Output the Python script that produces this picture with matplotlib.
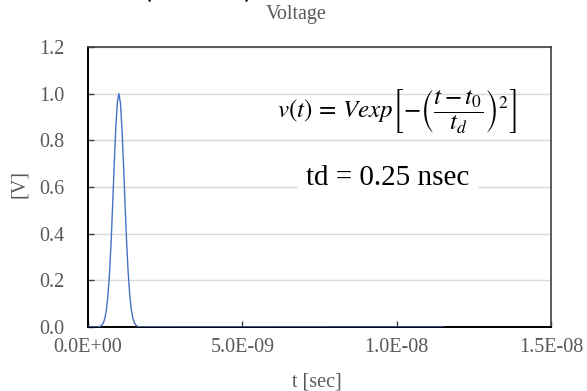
import matplotlib
matplotlib.use("Agg")
import matplotlib.pyplot as plt
from matplotlib.ticker import FuncFormatter

# Data (time in ns, voltage in V)
t_ns = [0.0, 0.3, 0.35, 0.4, 0.45, 0.5, 0.55, 0.6, 0.65, 0.7, 0.75, 0.8, 0.85,
        0.9, 0.95, 1.0, 1.05, 1.1, 1.15, 1.2, 1.25, 1.3, 1.35, 1.4, 1.45, 1.5,
        1.55, 1.6, 1.65, 1.7, 11.5]
voltage = [0.0, 0.0004, 0.0012, 0.0032, 0.0079, 0.0183, 0.0392, 0.0773, 0.1409,
           0.2369, 0.3679, 0.5273, 0.6977, 0.8521, 0.9608, 1.0, 0.9608, 0.8521,
           0.6977, 0.5273, 0.3679, 0.2369, 0.1409, 0.0773, 0.0392, 0.0183,
           0.0079, 0.0032, 0.0012, 0.0004, 0.0]
x_ticks = [0.0, 5e-9, 1e-8, 1.5e-8]
y_ticks = [0.0, 0.2, 0.4, 0.6, 0.8, 1.0, 1.2]

plt.rcParams['font.family'] = ['Liberation Serif', 'DejaVu Serif']
plt.rcParams['mathtext.fontset'] = 'stix'

fig = plt.figure(figsize=(5.87, 3.91), dpi=100)
W, H = 587, 391
ax = fig.add_axes([88 / W, 1 - 327 / H, (551 - 88) / W, (327 - 47) / H])

t_sec = [v * 1e-9 for v in t_ns]
ax.plot(t_sec, voltage, color='#4472C4', lw=1.0, zorder=3)

ax.set_xlim(0, 1.5e-8)
ax.set_ylim(0, 1.2)
ax.set_xticks(x_ticks)
ax.set_yticks(y_ticks)
ax.xaxis.set_major_formatter(FuncFormatter(lambda v, p: f"{v:.1E}"))
ax.yaxis.set_major_formatter(FuncFormatter(lambda v, p: f"{v:.1f}"))
ax.tick_params(axis='both', direction='in', length=4, width=1, color='#404040',
               labelsize=14.5, labelcolor='#595959')
ax.tick_params(axis='y', pad=17)
ax.tick_params(axis='x', pad=8)
ax.grid(axis='y', color='#D9D9D9', lw=1)
ax.set_axisbelow(True)

for s in ['left', 'bottom']:
    ax.spines[s].set_color('black')
    ax.spines[s].set_linewidth(1.4)
for s in ['top', 'right']:
    ax.spines[s].set_color('#404040')
    ax.spines[s].set_linewidth(1.2)

ax.set_xlabel('t [sec]', fontsize=14.5, color='#595959')
ax.xaxis.set_label_coords((317 - 88) / (551 - 88), -(373 - 327) / (327 - 47))
ax.set_ylabel('[V]', fontsize=14.5, color='#595959')
ax.yaxis.set_label_coords(-(88 - 29) / (551 - 88), (327 - 184) / (327 - 47))

fig.text(296 / W, 1 - 15 / H, 'Voltage', ha='center', va='center', fontsize=14.5,
         color='#595959')
fig.text(20 / W, 1 + 4 / H, '給電電圧(パルス)', ha='left', va='baseline',
         fontsize=22, color='black', family=['Noto Sans CJK JP', 'DejaVu Sans'])

ax.text(397 / W, 1 - 111 / H,
        r'$v(t)\, =\, Vexp\left[-\left(\dfrac{t - t_0}{t_d}\right)^{2}\right]$',
        transform=fig.transFigure, ha='center', va='center', fontsize=18,
        color='black', zorder=5)
ax.text(388 / W, 1 - 178 / H, 'td = 0.25 nsec', transform=fig.transFigure,
        ha='center', va='center', fontsize=21, color='black', zorder=5,
        bbox=dict(boxstyle='square,pad=0.3', fc='white', ec='none'))

fig.savefig('out.png', dpi=100)
